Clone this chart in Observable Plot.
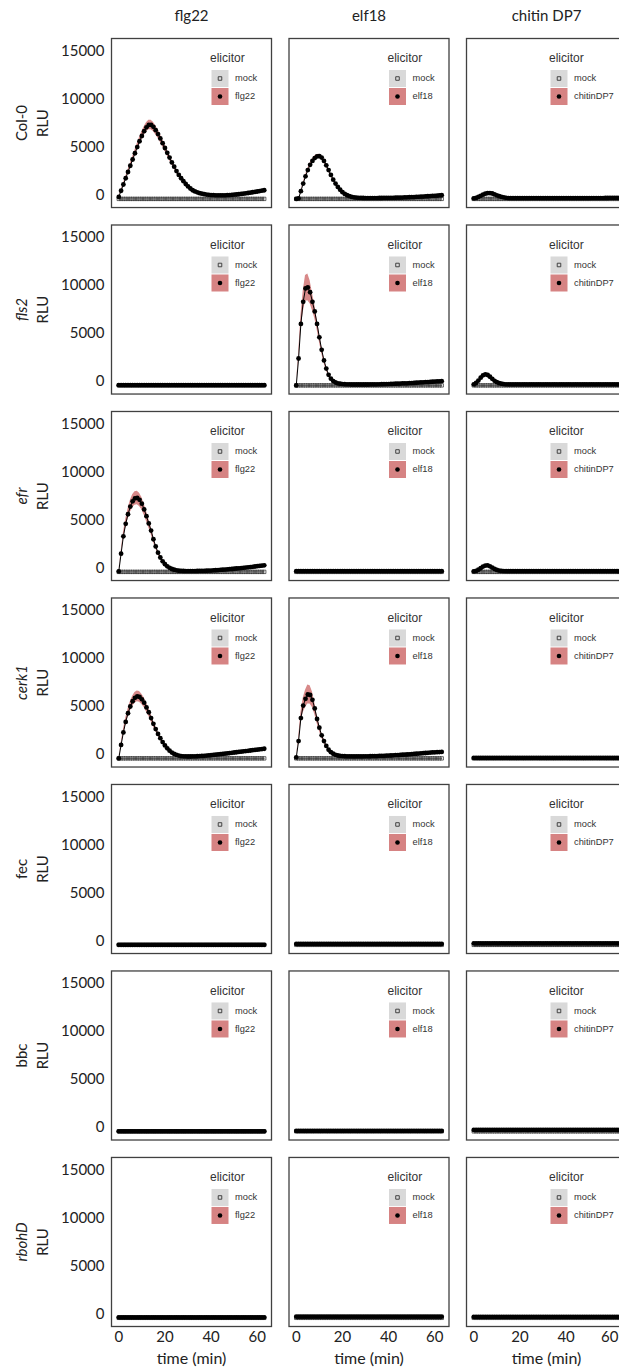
<!DOCTYPE html>
<html>
<head>
<meta charset="utf-8">
<script src="https://cdn.jsdelivr.net/npm/d3@7"></script>
<script src="https://cdn.jsdelivr.net/npm/@observablehq/plot@0.6"></script>
<style>
  html, body { margin: 0; padding: 0; background: #fff; overflow: hidden; }
  #chart { width: 619px; height: 1368px; overflow: hidden; }
  #chart svg { max-width: none !important; width: 640px; height: 1368px; }
</style>
</head>
<body>
<div id="chart"></div>
<script>
// ---------- data ----------
const genotypes = ["Col-0", "fls2", "efr", "cerk1", "fec", "bbc", "rbohD"];
const italicGenotypes = ["fls2", "efr", "cerk1", "rbohD"];
const elicitors = ["flg22", "elf18", "chitin DP7"];
const elicitorKeys = ["flg22", "elf18", "chitinDP7"];
const yTicks = [0, 5000, 10000, 15000];
const xTicks = [0, 20, 40, 60];

const time = [
  0,1,2,3,4,5,6,7, 8,9,10,11,12,13,14,15, 16,17,18,19,20,21,22,23, 24,25,26,27,28,29,30,31,
  32,33,34,35,36,37,38,39, 40,41,42,43,44,45,46,47, 48,49,50,51,52,53,54,55, 56,57,58,59,60,61,62,63
];

const mockRLU = [
  100,100,100,100,100,100,100,100, 100,100,100,100,100,100,100,100,
  100,100,100,100,100,100,100,100, 100,100,100,100,100,100,100,100,
  100,100,100,100,100,100,100,100, 100,100,100,100,100,100,100,100,
  100,100,100,100,100,100,100,100, 100,100,100,100,100,100,100,100
];

// Col-0
const col0_flg22 = [
  300,950,1600,2250,2900,3550,4200,4850, 5500,6100,6650,7150,7550,7800,7800,7600,
  7250,6850,6400,5900,5400,4900,4400,3900, 3450,3000,2600,2250,1950,1650,1400,1180,
  1000,880,780,700,640,590,550,520, 500,485,475,470,468,470,475,485,
  500,515,535,560,585,615,645,680, 715,750,790,830,870,915,960,1000
];
const col0_flg22_se = [
  40,80,120,160,200,240,280,320, 360,400,430,460,480,500,500,490,
  470,440,410,380,350,320,290,260, 230,200,180,160,140,120,100,90,
  80,70,60,55,50,45,40,40, 40,40,40,40,40,40,40,40,
  40,40,40,40,40,40,40,40, 40,45,45,50,50,55,55,60
];
const col0_elf18 = [
  100,150,900,1700,2450,3100,3650,4050, 4350,4520,4550,4400,4050,3600,3100,2600,
  2100,1700,1350,1050,800,620,480,380, 310,260,230,210,200,195,190,190,
  190,190,190,190,195,195,200,200, 205,210,215,220,225,230,240,250,
  260,270,280,290,300,315,330,345, 360,375,390,405,420,440,460,480
];
const col0_elf18_se = [
  10,20,60,100,140,170,190,200, 210,210,210,200,190,170,150,130,
  110,90,70,55,45,35,30,25, 20,20,20,20,20,20,20,20,
  20,20,20,20,20,20,20,20, 20,20,20,20,20,20,20,20,
  20,20,20,20,20,20,20,20, 20,20,20,20,20,20,20,20
];
const col0_chitin = [
  150,200,300,420,540,640,700,710, 660,570,470,380,300,250,210,190,
  180,175,170,170,170,170,170,170, 170,170,170,170,170,170,170,170,
  170,170,170,170,170,170,170,170, 170,170,170,170,175,175,175,175,
  180,180,180,185,185,185,190,190, 190,195,195,200,200,205,205,210
];

// fls2
const fls2_flg22 = [
  120,120,120,120,120,120,120,120, 120,120,120,120,120,120,120,120,
  120,120,120,120,120,120,120,120, 120,120,120,120,120,120,120,120,
  120,120,120,120,120,120,120,120, 120,120,120,120,120,120,120,120,
  120,120,120,120,120,120,120,120, 120,120,120,120,120,120,120,120
];
const fls2_elf18 = [
  100,2900,6500,8800,10200,10300,9800,8800, 7800,6500,5100,3800,2700,1850,1200,800,
  550,400,320,270,240,220,210,200, 195,190,190,190,190,190,195,195,
  200,200,205,210,215,220,225,230, 240,250,260,270,280,290,300,310,
  320,330,345,360,375,390,405,420, 435,450,465,480,495,510,525,540
];
const fls2_elf18_se = [
  20,400,800,1100,1350,1400,1200,900, 700,550,450,350,280,200,150,100,
  70,50,40,40,40,40,40,40, 40,40,40,40,40,40,40,40,
  40,40,40,40,40,40,40,40, 40,40,40,40,40,40,40,40,
  40,40,40,40,40,40,40,40, 40,40,40,40,40,40,40,40
];
const fls2_chitin = [
  200,350,600,900,1150,1250,1180,1000, 780,580,430,330,270,230,210,200,
  200,200,200,200,200,200,200,200, 200,200,200,200,200,200,200,200,
  200,200,200,200,200,200,200,200, 200,200,200,200,200,200,200,200,
  200,200,200,200,200,200,200,200, 200,200,200,200,200,200,200,200
];

// efr
const efr_flg22 = [
  150,2000,3800,5100,6100,6900,7450,7750, 7800,7600,7200,6600,5900,5150,4400,3500,
  2750,2100,1600,1200,900,680,520,400, 320,260,220,200,190,185,180,180,
  180,185,190,195,200,210,220,230, 240,255,270,285,300,320,340,360,
  380,400,425,450,475,500,525,550, 575,600,630,660,690,720,750,780
];
const efr_flg22_se = [
  20,200,350,450,550,620,680,700, 700,680,640,580,520,450,380,300,
  230,170,130,100,80,60,50,40, 40,40,40,40,40,40,40,40,
  40,40,40,40,40,40,40,40, 40,40,40,40,40,40,40,40,
  40,40,40,40,40,40,40,40, 40,40,40,40,40,40,40,40
];
const efr_elf18 = [
  170,170,170,170,170,170,170,170, 170,170,170,170,170,170,170,170,
  170,170,170,170,170,170,170,170, 170,170,170,170,170,170,170,170,
  170,170,170,170,170,170,170,170, 170,170,170,170,170,170,170,170,
  170,170,170,170,170,170,170,170, 170,170,170,170,170,170,170,170
];
const efr_chitin = [
  150,200,320,480,650,760,770,680, 540,400,300,240,200,185,175,170,
  170,170,170,170,170,170,170,170, 170,170,170,170,170,170,170,170,
  170,170,170,170,170,170,170,170, 170,170,170,170,170,170,170,170,
  170,170,170,170,170,170,170,170, 170,170,170,170,170,170,170,170
];

// cerk1
const cerk1_flg22 = [
  100,1500,2800,3900,4800,5500,6050,6400, 6550,6500,6250,5900,5400,4900,4300,3700,
  3150,2650,2200,1800,1450,1150,900,700, 560,460,390,340,310,300,295,295,
  300,310,320,335,350,370,390,410, 435,460,485,510,535,560,590,620,
  650,680,710,740,770,800,830,860, 890,920,950,980,1010,1040,1070,1100
];
const cerk1_flg22_se = [
  20,150,270,370,440,490,530,550, 560,550,530,500,460,410,360,310,
  260,220,180,150,120,100,80,65, 55,50,45,40,40,40,40,40,
  40,40,40,40,40,40,40,40, 40,40,40,40,40,40,40,40,
  40,40,40,40,40,40,40,40, 40,40,40,40,40,40,40,40
];
const cerk1_elf18 = [
  200,1900,4300,5600,6300,6750,6700,6200, 5300,4200,3300,2500,1900,1400,1000,750,
  580,470,400,360,340,320,310,300, 300,300,300,300,305,305,310,315,
  320,325,330,340,350,360,370,380, 390,400,415,430,445,460,475,490,
  505,520,540,560,580,600,620,640, 660,680,700,715,730,745,760,775
];
const cerk1_elf18_se = [
  20,250,550,750,900,1000,950,800, 600,450,350,270,200,150,110,80,
  60,50,40,40,40,40,40,40, 40,40,40,40,40,40,40,40,
  40,40,40,40,40,40,40,40, 40,40,40,40,40,40,40,40,
  40,40,40,40,40,40,40,40, 40,40,40,40,40,40,40,40
];
const cerk1_chitin = [
  150,150,150,150,150,150,150,150, 150,150,150,150,150,150,150,150,
  150,150,150,150,150,150,150,150, 150,150,150,150,150,150,150,150,
  150,150,150,150,150,150,150,150, 150,150,150,150,150,150,150,150,
  150,150,150,150,150,150,150,150, 150,150,150,150,150,150,150,150
];

// fec
const fec_flg22 = [
  100,100,100,100,100,100,100,100, 100,100,100,100,100,100,100,100,
  100,100,100,100,100,100,100,100, 100,100,100,100,100,100,100,100,
  100,100,100,100,100,100,100,100, 100,100,100,100,100,100,100,100,
  100,100,100,100,100,100,100,100, 100,100,100,100,100,100,100,100
];
const fec_elf18 = [
  200,200,200,200,200,200,200,200, 200,200,200,200,200,200,200,200,
  200,200,200,200,200,200,200,200, 200,200,200,200,200,200,200,200,
  200,200,200,200,200,200,200,200, 200,200,200,200,200,200,200,200,
  200,200,200,200,200,200,200,200, 200,200,200,200,200,200,200,200
];
const fec_chitin = [
  250,250,250,250,250,250,250,250, 250,250,250,250,250,250,250,250,
  250,250,250,250,250,250,250,250, 250,250,250,250,250,250,250,250,
  250,250,250,250,250,250,250,250, 250,250,250,250,250,250,250,250,
  250,250,250,250,250,250,250,250, 250,250,250,250,250,250,250,250
];

// bbc
const bbc_flg22 = [
  100,100,100,100,100,100,100,100, 100,100,100,100,100,100,100,100,
  100,100,100,100,100,100,100,100, 100,100,100,100,100,100,100,100,
  100,100,100,100,100,100,100,100, 100,100,100,100,100,100,100,100,
  100,100,100,100,100,100,100,100, 100,100,100,100,100,100,100,100
];
const bbc_elf18 = [
  150,150,150,150,150,150,150,150, 150,150,150,150,150,150,150,150,
  150,150,150,150,150,150,150,150, 150,150,150,150,150,150,150,150,
  150,150,150,150,150,150,150,150, 150,150,150,150,150,150,150,150,
  150,150,150,150,150,150,150,150, 150,150,150,150,150,150,150,150
];
const bbc_chitin = [
  250,250,250,250,250,250,250,250, 250,250,250,250,250,250,250,250,
  250,250,250,250,250,250,250,250, 250,250,250,250,250,250,250,250,
  250,250,250,250,250,250,250,250, 250,250,250,250,250,250,250,250,
  250,250,250,250,250,250,250,250, 250,250,250,250,250,250,250,250
];

// rbohD
const rbohD_flg22 = [
  150,150,150,150,150,150,150,150, 150,150,150,150,150,150,150,150,
  150,150,150,150,150,150,150,150, 150,150,150,150,150,150,150,150,
  150,150,150,150,150,150,150,150, 150,150,150,150,150,150,150,150,
  150,150,150,150,150,150,150,150, 150,150,150,150,150,150,150,150
];
const rbohD_elf18 = [
  220,220,220,220,220,220,220,220, 220,220,220,220,220,220,220,220,
  220,220,220,220,220,220,220,220, 220,220,220,220,220,220,220,220,
  220,220,220,220,220,220,220,220, 220,220,220,220,220,220,220,220,
  220,220,220,220,220,220,220,220, 220,220,220,220,220,220,220,220
];
const rbohD_chitin = [
  200,200,200,200,200,200,200,200, 200,200,200,200,200,200,200,200,
  200,200,200,200,200,200,200,200, 200,200,200,200,200,200,200,200,
  200,200,200,200,200,200,200,200, 200,200,200,200,200,200,200,200,
  200,200,200,200,200,200,200,200, 200,200,200,200,200,200,200,200
];

// ---------- assembly ----------
const panels = [
  ["Col-0", "flg22", col0_flg22, col0_flg22_se],
  ["Col-0", "elf18", col0_elf18, col0_elf18_se],
  ["Col-0", "chitin DP7", col0_chitin, null],
  ["fls2", "flg22", fls2_flg22, null],
  ["fls2", "elf18", fls2_elf18, fls2_elf18_se],
  ["fls2", "chitin DP7", fls2_chitin, null],
  ["efr", "flg22", efr_flg22, efr_flg22_se],
  ["efr", "elf18", efr_elf18, null],
  ["efr", "chitin DP7", efr_chitin, null],
  ["cerk1", "flg22", cerk1_flg22, cerk1_flg22_se],
  ["cerk1", "elf18", cerk1_elf18, cerk1_elf18_se],
  ["cerk1", "chitin DP7", cerk1_chitin, null],
  ["fec", "flg22", fec_flg22, null],
  ["fec", "elf18", fec_elf18, null],
  ["fec", "chitin DP7", fec_chitin, null],
  ["bbc", "flg22", bbc_flg22, null],
  ["bbc", "elf18", bbc_elf18, null],
  ["bbc", "chitin DP7", bbc_chitin, null],
  ["rbohD", "flg22", rbohD_flg22, null],
  ["rbohD", "elf18", rbohD_elf18, null],
  ["rbohD", "chitin DP7", rbohD_chitin, null]
];

const treated = panels.flatMap(([g, e, m, se]) =>
  time.map((t, i) => ({genotype: g, elicitor: e, time: t, rlu: m[i],
    lo: se ? m[i] - se[i] : null, hi: se ? m[i] + se[i] : null})));
const ribbons = treated.filter(d => d.lo != null);
const mock = panels.flatMap(([g, e]) =>
  time.map((t, i) => ({genotype: g, elicitor: e, time: t, rlu: mockRLU[i]})));

const legendRows = panels.map(([g, e]) => ({genotype: g, elicitor: e,
  key: elicitorKeys[elicitors.indexOf(e)]}));

const xTickRows = elicitors.flatMap(e => xTicks.map(t => ({elicitor: e, t})));
const isEdgeTick = d => d.elicitor === "chitin DP7" && d.t === 60;

const FONT = "Lato, 'Open Sans', sans-serif";
const LFONT = "'Liberation Sans', Arial, Helvetica, sans-serif";
const RED = "#d68383";
const GREY = "#d9d9d9";

function legend(rows, ox) {
  const base = {fx: "elicitor", fy: "genotype", frameAnchor: "top-left"};
  return [
    Plot.text(rows, {...base, text: () => "elicitor", dx: ox, dy: 20, textAnchor: "start",
      lineAnchor: "middle", fontSize: 12, fontFamily: LFONT, fill: "#333"}),
    Plot.dot(rows, {...base, dx: ox + 10, dy: 40, symbol: "square", r: 9.6, fill: GREY}),
    Plot.dot(rows, {...base, dx: ox + 10, dy: 58, symbol: "square", r: 9.6, fill: RED}),
    Plot.dot(rows, {...base, dx: ox + 10, dy: 40, symbol: "square", r: 2, fill: "none", stroke: "#333", strokeWidth: 0.9}),
    Plot.dot(rows, {...base, dx: ox + 10, dy: 58, r: 2.3, fill: "black"}),
    Plot.text(rows, {...base, text: () => "mock", dx: ox + 25, dy: 40, textAnchor: "start",
      lineAnchor: "middle", fontSize: 9.3, fontFamily: LFONT, fill: "#333"}),
    Plot.text(rows, {...base, text: "key", dx: ox + 25, dy: 58, textAnchor: "start",
      lineAnchor: "middle", fontSize: 9.3, fontFamily: LFONT, fill: "#333"})
  ];
}

const chart = Plot.plot({
  width: 640,
  height: 1368,
  marginLeft: 111,
  marginRight: 14,
  marginTop: 38,
  marginBottom: 42,
  style: {fontFamily: FONT, background: "white"},
  fx: {domain: elicitors, paddingInner: 17.5 / 177.5, paddingOuter: 0, round: false, axis: null},
  fy: {domain: genotypes, paddingInner: 17.45 / 186.45, paddingOuter: 0, round: false, axis: null},
  x: {domain: [-3.15, 66.15], axis: null},
  y: {domain: [-800, 16800]},
  marks: [
    Plot.areaY(ribbons, {x: "time", y1: "lo", y2: "hi", fx: "elicitor", fy: "genotype", fill: RED, fillOpacity: 0.95}),
    Plot.lineY(mock, {x: "time", y: "rlu", fx: "elicitor", fy: "genotype", stroke: "#444", strokeWidth: 0.8}),
    Plot.dot(mock, {x: "time", y: "rlu", fx: "elicitor", fy: "genotype", symbol: "square", r: 1.9,
      fill: "none", stroke: "#333", strokeWidth: 0.75}),
    Plot.lineY(treated, {x: "time", y: "rlu", fx: "elicitor", fy: "genotype", stroke: "black", strokeWidth: 1}),
    Plot.dot(treated, {x: "time", y: "rlu", fx: "elicitor", fy: "genotype", r: 2.4, fill: "black"}),
    ...legend(legendRows.filter(d => d.elicitor !== "chitin DP7"), 98.5),
    ...legend(legendRows.filter(d => d.elicitor === "chitin DP7"), 82.5),
    Plot.frame({stroke: "#404040", strokeWidth: 1.3}),
    Plot.axisY({ticks: yTicks, tickFormat: "d", tickSize: 0, tickPadding: 7, dy: -5,
      fontSize: 15, label: null, color: "#222"}),
    Plot.text(xTickRows.filter(d => !isEdgeTick(d)), {x: "t", fx: "elicitor", fy: () => "rbohD",
      text: d => String(d.t), frameAnchor: "bottom", dy: 11, lineAnchor: "middle", fontSize: 15, fill: "#222"}),
    Plot.text(xTickRows.filter(isEdgeTick), {x: "t", fx: "elicitor", fy: () => "rbohD",
      text: d => String(d.t), frameAnchor: "bottom", dx: -2.5, dy: 11, lineAnchor: "middle", fontSize: 15, fill: "#222"}),
    Plot.text(elicitors, {fx: d => d, fy: () => "Col-0", text: d => d, frameAnchor: "top",
      dy: -22, lineAnchor: "middle", fontSize: 15, fill: "#222"}),
    Plot.text(elicitors, {fx: d => d, fy: () => "rbohD", text: () => "time (min)", frameAnchor: "bottom",
      dy: 32, lineAnchor: "middle", fontSize: 16, fill: "#222"}),
    Plot.text(genotypes.filter(g => italicGenotypes.includes(g)), {fx: () => "flg22", fy: d => d, text: d => d,
      frameAnchor: "left", dx: -89, rotate: -90, textAnchor: "middle", lineAnchor: "middle",
      fontSize: 15, fontStyle: "italic", fill: "#222"}),
    Plot.text(genotypes.filter(g => !italicGenotypes.includes(g)), {fx: () => "flg22", fy: d => d, text: d => d,
      frameAnchor: "left", dx: -89, rotate: -90, textAnchor: "middle", lineAnchor: "middle",
      fontSize: 15, fill: "#222"}),
    Plot.text(genotypes, {fx: () => "flg22", fy: d => d, text: () => "RLU",
      frameAnchor: "left", dx: -68.5, rotate: -90, textAnchor: "middle", lineAnchor: "middle",
      fontSize: 15, fill: "#222"})
  ]
});

document.getElementById("chart").appendChild(chart);
</script>
</body>
</html>
